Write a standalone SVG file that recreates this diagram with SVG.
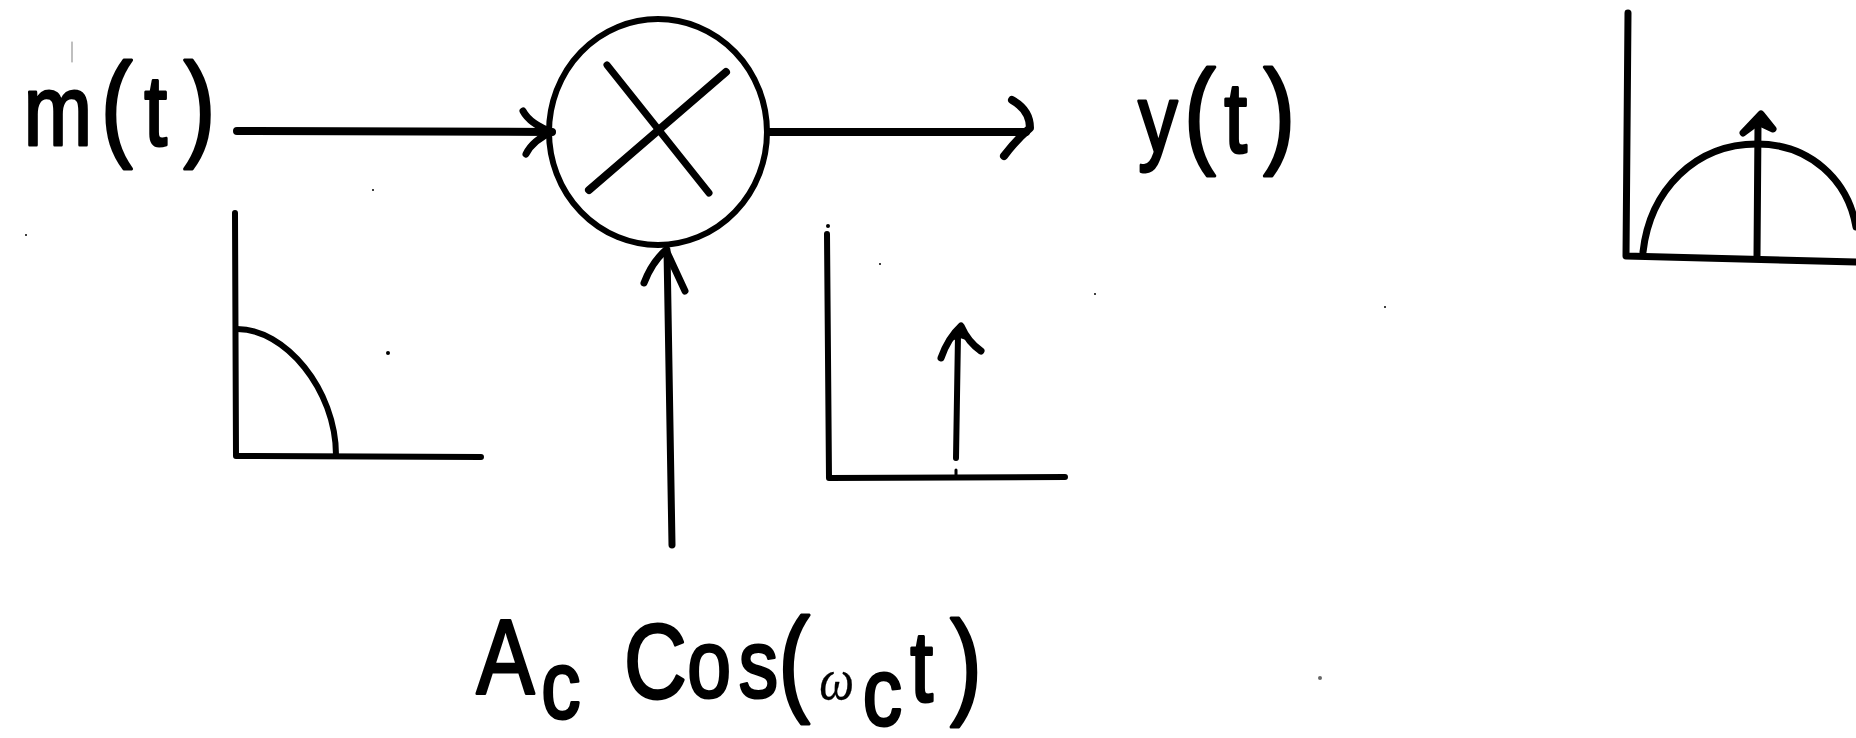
<svg xmlns="http://www.w3.org/2000/svg" width="1856" height="738" viewBox="0 0 1856 738">
<style>
.l{fill:none;stroke:#000;stroke-linecap:round;stroke-linejoin:round}
.t{font-family:"Liberation Sans",Arial,sans-serif;fill:#000;stroke:#000;stroke-width:3;stroke-linejoin:round}
.s{fill:#000}
</style>
<rect width="1856" height="738" fill="#fff"/>
<g id="multiplier">
<ellipse class="l" cx="658" cy="132" rx="109" ry="113" stroke-width="6"/>
<path class="l" d="M607 65L709 193" stroke-width="7"/>
<path class="l" d="M726 72L589 190" stroke-width="8"/>
</g>
<g id="connectors">
<path class="l" d="M237 131L552 132" stroke-width="8"/>
<path class="l" d="M523 111Q530 124 552 132Q533 140 526 154" stroke-width="7"/>
<path class="l" d="M769 132L1026 132" stroke-width="8"/>
<path class="l" d="M1012 100Q1030 110 1030 128Q1016 140 1004 156" stroke-width="8"/>
<path class="l" d="M672 545L667 250" stroke-width="7"/>
<path class="l" d="M644 283Q652 262 666 250Q673 265 685 291" stroke-width="7"/>
</g>
<g id="label-m"><text class="t" font-size="100" y="145" transform="scale(.82 1)"><tspan x="29">m</tspan><tspan x="123" font-size="116">(</tspan><tspan x="176">t</tspan><tspan x="224" font-size="116">)</tspan></text></g>
<g id="label-y"><text class="t" font-size="96" y="152" transform="scale(.82 1)"><tspan x="1388">y</tspan><tspan x="1444" font-size="116">(</tspan><tspan x="1493" font-size="100">t</tspan><tspan x="1541" font-size="116">)</tspan></text></g>
<g id="label-carrier"><text class="t" font-size="106" transform="scale(.82 1)"><tspan x="581" y="693">A</tspan><tspan x="660" y="718" font-size="96">c</tspan><tspan x="761" y="698">C</tspan><tspan x="838" y="697" font-size="96">o</tspan><tspan x="901" y="697" font-size="96">s</tspan><tspan x="949" y="700" font-size="116">(</tspan><tspan x="999" y="699" font-size="60" font-family="Liberation Serif" font-style="italic" stroke-width="0.3">ω</tspan><tspan x="1052" y="725" font-size="96">c</tspan><tspan x="1110" y="701" font-size="100">t</tspan><tspan x="1159" y="703" font-size="116">)</tspan></text></g>
<g id="chart-input">
<path class="l" d="M235 213L236 456L481 457" stroke-width="6"/>
<path class="l" d="M236 329C285 328 336 390 336 455" stroke-width="6"/>
</g>
<g id="chart-carrier">
<path class="l" d="M827 234L829 478L1065 477" stroke-width="6"/>
<circle class="s" cx="828" cy="226" r="2"/>
<path class="l" d="M956 458L958 335" stroke-width="6"/>
<path class="l" d="M941 358Q948 338 961 326Q968 342 981 351" stroke-width="7"/>
<path class="s" d="M948 342L961 324L972 342L960 338Z"/>
<path class="l" d="M956 470V478" stroke-width="3"/>
</g>
<g id="chart-output">
<path class="l" d="M1628 13L1626 256L1856 262" stroke-width="7"/>
<path class="l" d="M1643 252C1650 190 1695 144 1757 144C1810 144 1848 180 1856 227" stroke-width="7"/>
<path class="l" d="M1757 256L1758 125" stroke-width="7"/>
<path class="l s" d="M1743 133L1761 114L1773 129L1758 122Z" stroke-width="7"/>
</g>
<g id="specks">
<circle class="s" cx="388" cy="353" r="2"/>
<path class="l" d="M72 42V62" stroke-width="1" stroke-opacity=".5"/>
<circle class="s" cx="26" cy="235" r="1"/>
<circle class="s" cx="373" cy="190" r="1"/>
<circle class="s" cx="880" cy="264" r="1"/>
<circle class="s" cx="1095" cy="294" r="1"/>
<circle class="s" cx="1385" cy="307" r="1"/>
<circle class="s" cx="1320" cy="678" r="2" fill-opacity=".6"/>
</g>
</svg>
